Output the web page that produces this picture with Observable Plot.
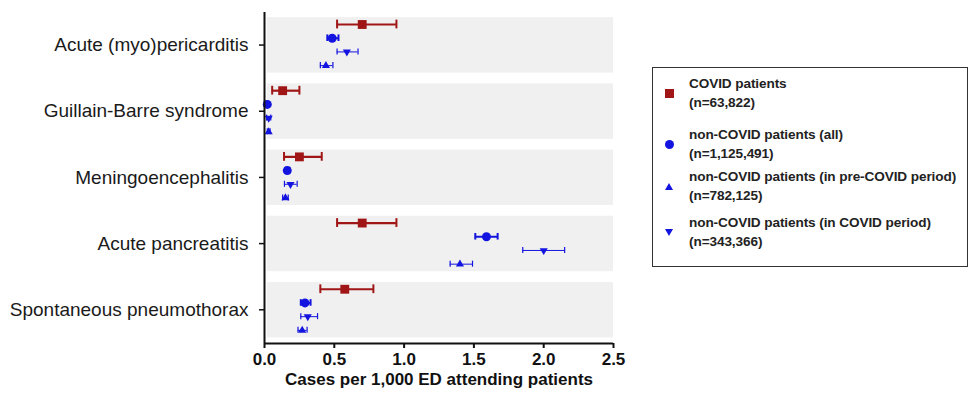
<!DOCTYPE html>
<html><head><meta charset="utf-8">
<script src="https://cdn.jsdelivr.net/npm/d3@7"></script>
<script src="https://cdn.jsdelivr.net/npm/@observablehq/plot@0.6"></script>
<style>
body{margin:0;background:#fff;font-family:"Liberation Sans",Arial,sans-serif;}
#wrap{position:relative;width:970px;height:401px;overflow:hidden;}
#chart{position:absolute;left:0;top:0;}
#legend{position:absolute;left:652px;top:67px;width:316px;height:200px;border:1.5px solid #333;box-sizing:border-box;}
.entry{position:absolute;left:36px;font-weight:bold;font-size:13.6px;letter-spacing:-0.1px;line-height:18.5px;color:#222;white-space:nowrap;}
.mk{position:absolute;}
</style>
</head><body>
<div id="wrap"><div id="chart"></div><div id="legend"></div></div>
<script>
// ---------- data ----------
const categories = ["Acute (myo)pericarditis", "Guillain-Barre syndrome", "Meningoencephalitis", "Acute pancreatitis", "Spontaneous pneumothorax"];
const seriesNames = ["COVID patients", "non-COVID patients (all)", "non-COVID patients (in pre-COVID period)", "non-COVID patients (in COVID period)"];
const seriesN = ["(n=63,822)", "(n=1,125,491)", "(n=782,125)", "(n=343,366)"];

const covidMean = [0.70, 0.13, 0.25, 0.70, 0.575];
const covidLo   = [0.52, 0.055, 0.14, 0.52, 0.40];
const covidHi   = [0.945, 0.25, 0.41, 0.945, 0.78];

const allMean = [0.485, 0.02, 0.163, 1.59, 0.29];
const allLo   = [0.45, 0.012, 0.15, 1.51, 0.26];
const allHi   = [0.53, 0.028, 0.18, 1.67, 0.33];

const preMean = [0.44, 0.03, 0.15, 1.40, 0.27];
const preLo   = [0.40, 0.02, 0.13, 1.33, 0.24];
const preHi   = [0.49, 0.04, 0.17, 1.49, 0.305];

const durMean = [0.59, 0.03, 0.186, 2.00, 0.31];
const durLo   = [0.52, 0.015, 0.143, 1.85, 0.26];
const durHi   = [0.67, 0.045, 0.234, 2.15, 0.38];

const xTicks = [0, 0.5, 1.0, 1.5, 2.0, 2.5];
const xLabel = "Cases per 1,000 ED attending patients";

// ---------- styling / layout ----------
const RED = "#a01616", BLUE = "#1414e0";
const G = 4.83;               // group step in row units
const yDomain = [-0.876, 23.28];
const xDomain = [0, 2.5];

const triDown = {draw(ctx, size){
  const a = Math.sqrt(4*size/Math.sqrt(3)), h = a*Math.sqrt(3)/2;
  ctx.moveTo(0, 2*h/3); ctx.lineTo(-a/2, -h/3); ctx.lineTo(a/2, -h/3); ctx.closePath();
}};

// row order within each group (top to bottom) and style
const series = [
  {key:"covid", mean:covidMean, lo:covidLo, hi:covidHi, row:0, color:RED,  sw:2.2, cap:0.32, symbol:"square",   r:5.0},
  {key:"all",   mean:allMean,   lo:allLo,   hi:allHi,   row:1, color:BLUE, sw:2,   cap:0.24, symbol:"circle",   r:4.5},
  {key:"dur",   mean:durMean,   lo:durLo,   hi:durHi,   row:2, color:BLUE, sw:1,   cap:0.22, symbol:triDown,    r:3.0},
  {key:"pre",   mean:preMean,   lo:preLo,   hi:preHi,   row:3, color:BLUE, sw:1,   cap:0.22, symbol:"triangle", r:3.0}
];

const marks = [
  Plot.rect(categories, {x1: xDomain[0] + 0.02, x2: xDomain[1], y1: (d,i) => i*G - 0.5, y2: (d,i) => i*G + 3.55, fill: "#f0f0f0"})
];
for (const s of series) {
  const data = categories.map((c,i) => ({cat:c, y:i*G + s.row, mean:s.mean[i], lo:s.lo[i], hi:s.hi[i]}));
  marks.push(
    Plot.ruleY(data, {y:"y", x1:"lo", x2:"hi", stroke:s.color, strokeWidth:s.sw}),
    Plot.ruleX(data, {x:"lo", y1:d => d.y - s.cap, y2:d => d.y + s.cap, stroke:s.color, strokeWidth:s.sw < 2 ? 1.2 : 2}),
    Plot.ruleX(data, {x:"hi", y1:d => d.y - s.cap, y2:d => d.y + s.cap, stroke:s.color, strokeWidth:s.sw < 2 ? 1.2 : 2}),
    Plot.dot(data, {x:"mean", y:"y", symbol:() => s.symbol, r:s.r, fill:s.color, stroke:"none"})
  );
}
const yTicks = categories.map((c,i) => i*G + 1.5);
marks.push(
  Plot.ruleX([xDomain[0]], {y1: yDomain[0], y2: yDomain[1], stroke:"#111", strokeWidth:2}),
  Plot.ruleY([yDomain[1]], {x1: xDomain[0], x2: xDomain[1], stroke:"#111", strokeWidth:2}),
  Plot.axisY({ticks: yTicks, tickFormat: d => categories[Math.round((d - 1.5)/G)], tickSize:5, tickPadding:11, fontSize:19, label:null, stroke:"#111", strokeWidth:1.5, fill:"#1a1a1a"}),
  Plot.axisX({ticks: xTicks, tickFormat: d3.format(".1f"), tickSize:5, tickPadding:4, fontSize:17, fontWeight:"bold", label:null, stroke:"#111", strokeWidth:2, fill:"#111"}),
  Plot.text([xLabel], {frameAnchor:"bottom", dy:41, fontSize:17, fontWeight:"bold", fill:"#111"})
);

const chart = Plot.plot({
  width: 640, height: 401,
  marginLeft: 264, marginRight: 27, marginTop: 12, marginBottom: 58,
  style: {fontFamily: "'Liberation Sans', Arial, sans-serif", background: "white"},
  x: {domain: xDomain},
  y: {domain: yDomain, reverse: true},
  symbol: {type: "identity"},
  marks
});
document.getElementById("chart").appendChild(chart);

// ---------- legend ----------
const legend = document.getElementById("legend");
const legendTops = [7, 58, 100, 146];
const legendMarker = [
  {html:`<div style="width:9px;height:9px;background:${RED}"></div>`, top:21},
  {html:`<div style="width:9px;height:9px;border-radius:50%;background:${BLUE}"></div>`, top:72},
  {html:`<div style="width:0;height:0;border-left:4px solid transparent;border-right:4px solid transparent;border-bottom:7px solid ${BLUE}"></div>`, top:115},
  {html:`<div style="width:0;height:0;border-left:4px solid transparent;border-right:4px solid transparent;border-top:7px solid ${BLUE}"></div>`, top:161}
];
seriesNames.forEach((name, i) => {
  const e = document.createElement("div");
  e.className = "entry"; e.style.top = legendTops[i] + "px";
  e.textContent = name; e.appendChild(document.createElement("br"));
  e.appendChild(document.createTextNode(seriesN[i]));
  legend.appendChild(e);
  const m = document.createElement("div");
  m.className = "mk"; m.style.left = "12px"; m.style.top = legendMarker[i].top + "px";
  m.innerHTML = legendMarker[i].html;
  legend.appendChild(m);
});
</script>
</body></html>
